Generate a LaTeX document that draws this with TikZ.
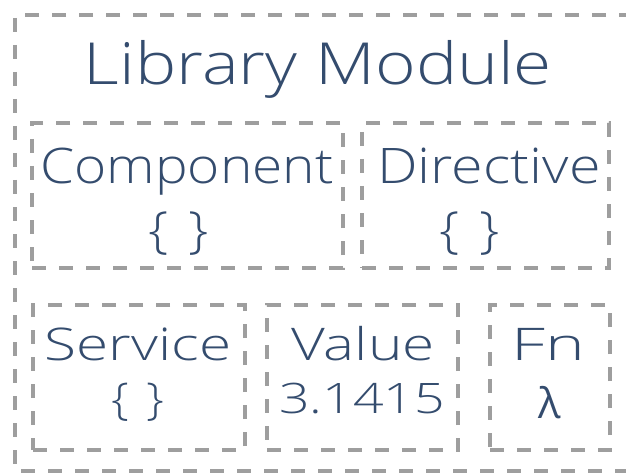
\documentclass[tikz,border=0pt]{standalone}
\usepackage{fontspec}
\setmainfont[FakeStretch=1.15]{Open Sans Light}
\newfontfamily\regfont{Open Sans}
\definecolor{inkblue}{HTML}{344C6E}
\definecolor{dashgray}{HTML}{9E9E9E}
\newcommand{\hs}[2]{\scalebox{#1}[1]{#2}}
\newcommand{\emptybraces}{\{\hspace{0.4em}\}}
\begin{document}
\begin{tikzpicture}[x=1pt,y=-1pt,
  dashline/.style={draw=dashgray, line width=3.2pt, dash pattern=on 14pt off 13pt},
  box/.style={dashline, inner sep=0pt, outer sep=0pt, minimum height=145pt},
  lbl/.style={text=inkblue, inner sep=0pt, anchor=base},
  title/.style={lbl, font=\fontsize{58}{60}\selectfont},
  head/.style={lbl, font=\fontsize{49}{52}\selectfont},
  small/.style={lbl, font=\fontsize{45}{48}\selectfont}]
  \useasboundingbox (0,0) rectangle (626,473);
  \clip (0,0) rectangle (626,473);
  \fill[white] (0,0) rectangle (626,473);

  % module frame; its right side lies past the edge of the page
  \draw[dashline] (660,15) -- (15,15) -- (15,471) -- (660,471);
  \node[title] (modtitle) at (318,85) {\hs{1.04}{Library Module}};

  % upper row
  \node[box, minimum width=311pt] (comp) at (187.5,195.5) {};
  \node[head] (comptxt) at (187,183) {\hs{0.975}{Component}};
  \node[lbl, font=\fontsize{50}{52}\selectfont] (compbr) at (179,247) {\emptybraces};

  \node[box, minimum width=247pt] (dir) at (485.5,195.5) {};
  \node[head] (dirtxt) at (489,183) {\hs{1.02}{Directive}};
  \node[lbl, font=\fontsize{50}{52}\selectfont] (dirbr) at (470,247) {\emptybraces};

  % lower row
  \node[box, minimum width=212pt] (serv) at (139,377.5) {};
  \node[small] (servtxt) at (138,360) {\hs{1.13}{Service}};
  \node[lbl, font=\fontsize{44}{46}\selectfont] (servbr) at (138,414) {\emptybraces};

  \node[box, minimum width=191pt] (val) at (362.5,377.5) {};
  \node[small] (valtxt) at (363,360) {\hs{1.13}{Value}};
  \node[lbl, font=\fontsize{42}{44}\selectfont] (valnum) at (362,413) {\hs{1.11}{3.1415}};

  \node[box, minimum width=120pt] (fn) at (550,377.5) {};
  \node[small] (fntxt) at (548,360) {\hs{1.3}{Fn}};
  \node[lbl, font=\regfont\fontsize{42}{44}\selectfont] (fnlam) at (550,418) {λ};
\end{tikzpicture}
\end{document}
